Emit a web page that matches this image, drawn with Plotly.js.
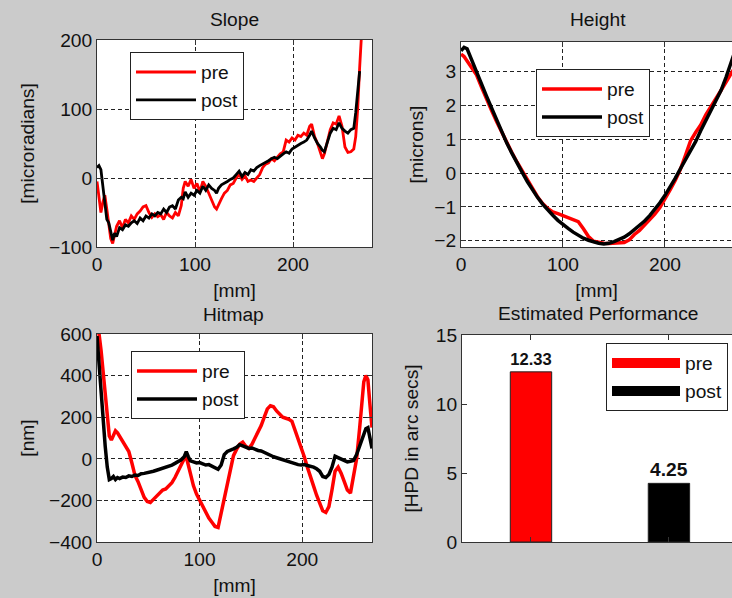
<!DOCTYPE html>
<html>
<head>
<meta charset="utf-8">
<script src="https://cdn.plot.ly/plotly-3.0.1.min.js"></script>
<style>html,body{margin:0;padding:0;background:#cbcbcb;}#chart{width:732px;height:598px;}</style>
</head>
<body>
<div id="chart"></div>
<script>
// ---------- Slope ----------
const slopeX = [0,2,4,6,8,10,12,14,16,18,20,23,26,29,32,35,38,41,44,47,50,53,56,59,62,65,68,71,74,77,80,83,86,88,90,93,96,99,102,105,108,111,114,117,120,122,124,127,130,133,136,139,142,145,148,151,154,157,160,163,166,169,172,175,178,181,184,187,190,193,196,199,202,205,208,211,214,217,219,222,225,228,230,232,235,238,241,244,247,250,253,256,259,262,264,266,268,270];
const slopePre = [-5,-30,-50,-35,-25,-45,-70,-88,-95,-82,-70,-62,-72,-60,-65,-55,-60,-52,-48,-42,-40,-50,-57,-52,-56,-53,-60,-50,-55,-58,-50,-55,-40,-15,-5,-12,-2,-15,-8,-20,-5,-12,-22,-30,-42,-45,-38,-30,-22,-18,-10,-8,0,5,-2,3,-5,-3,-5,0,5,15,20,22,28,25,30,35,38,55,52,58,55,62,60,65,62,75,78,60,50,35,28,35,55,70,80,78,90,75,45,37,38,42,60,100,160,210];
const slopePost = [15,18,12,-10,-40,-60,-65,-80,-90,-80,-85,-72,-75,-68,-70,-65,-62,-66,-58,-62,-55,-58,-52,-55,-50,-52,-45,-50,-42,-40,-45,-32,-28,-30,-20,-28,-22,-25,-18,-22,-12,-18,-10,-15,-18,-22,-15,-10,-8,-5,-2,0,5,10,2,8,5,12,10,15,18,20,22,25,28,30,28,32,35,38,36,42,45,48,50,52,55,62,68,58,50,45,40,38,50,65,72,70,80,72,68,65,70,72,95,130,155,null];

// ---------- Height ----------
const heightX = [0,3,6,10,15,20,25,30,35,40,45,50,55,60,65,70,75,80,85,90,95,100,105,110,115,120,125,130,135,140,145,150,155,160,165,170,175,180,185,190,195,200,205,210,215,220,225,230,235,240,245,250,255,260,265,268];
const heightPre = [3.52,3.45,3.32,3.15,2.92,2.55,2.18,1.85,1.52,1.20,0.90,0.60,0.32,0.05,-0.22,-0.45,-0.70,-0.90,-1.05,-1.15,-1.20,-1.26,-1.33,-1.38,-1.44,-1.65,-1.88,-2.02,-2.06,-2.08,-2.09,-2.08,-2.08,-2.06,-1.98,-1.82,-1.70,-1.55,-1.38,-1.22,-1.02,-0.78,-0.50,-0.22,0.10,0.52,0.95,1.20,1.42,1.72,1.98,2.20,2.45,2.70,2.95,3.10];
const heightPost = [3.62,3.72,3.68,3.40,3.00,2.65,2.28,1.92,1.58,1.22,0.88,0.58,0.28,0.02,-0.25,-0.50,-0.72,-0.92,-1.10,-1.25,-1.40,-1.53,-1.64,-1.75,-1.85,-1.93,-1.99,-2.04,-2.08,-2.10,-2.08,-2.03,-1.97,-1.90,-1.80,-1.68,-1.56,-1.42,-1.26,-1.08,-0.88,-0.66,-0.42,-0.16,0.12,0.38,0.65,0.93,1.25,1.55,1.85,2.12,2.45,2.85,3.30,3.55];

// ---------- Hitmap ----------
const hitX = [0,2,4,6,8,10,12,14,16,18,20,22,25,28,31,34,37,40,43,46,49,52,55,58,61,64,67,70,73,76,79,82,85,87,89,91,94,97,100,103,106,109,112,115,118,121,124,127,130,133,136,139,142,145,148,151,154,157,160,163,166,169,172,175,178,181,184,187,190,193,196,199,202,205,208,211,214,217,220,223,226,229,232,235,238,241,244,247,250,253,256,258,260,262,264,266,268];
const hitPre = [620,600,520,420,320,220,110,90,110,135,125,110,80,60,35,-20,-80,-110,-150,-185,-205,-210,-195,-180,-165,-150,-145,-130,-115,-90,-60,-30,0,10,-30,-80,-130,-170,-200,-230,-260,-285,-305,-325,-330,-260,-180,-110,-40,15,45,70,80,60,50,70,100,130,160,200,240,255,250,230,215,200,195,190,180,140,90,50,10,-40,-80,-130,-175,-215,-250,-258,-230,-150,-60,-40,-70,-110,-150,-165,-80,0,150,270,370,400,380,260,150];
const hitPost = [590,450,290,170,60,-40,-100,-95,-85,-100,-90,-95,-88,-90,-82,-85,-78,-80,-72,-70,-68,-62,-60,-55,-50,-45,-40,-38,-30,-22,-15,-5,10,35,10,-10,-15,-20,-18,-25,-30,-28,-35,-42,-50,-30,20,35,40,48,55,68,62,55,50,52,45,40,38,30,25,18,10,5,0,-5,-10,-15,-20,-25,-28,-30,-28,-32,-35,-40,-48,-60,-85,-90,-75,-40,12,5,-5,-8,-15,-12,-8,20,60,90,120,145,150,90,50];

// ---------- Estimated Performance ----------
const perfNames = ['pre', 'post'];
const perfPos = [1, 2];
const perfValues = [12.33, 4.25];

const RED = '#ff0000', BLACK = '#000000';
const FF = 'Liberation Sans, Arial, sans-serif';
const FS = 19.2;
const font = {family: FF, size: FS, color: '#111'};

function ax(extra) {
  return Object.assign({
    showline: true, linecolor: '#333', linewidth: 1, mirror: 'ticks',
    ticks: 'inside', ticklen: 5, tickcolor: '#333', tickwidth: 1,
    showgrid: true, gridcolor: '#222', gridwidth: 1, griddash: '4px,3px',
    zeroline: false, tickfont: font, automargin: false, fixedrange: true
  }, extra);
}

const traces = [
  {x: slopeX, y: slopePre, type: 'scatter', mode: 'lines', name: 'pre', line: {color: RED, width: 2.8}, xaxis: 'x', yaxis: 'y', legend: 'legend'},
  {x: slopeX, y: slopePost, type: 'scatter', mode: 'lines', name: 'post', line: {color: BLACK, width: 2.8}, xaxis: 'x', yaxis: 'y', legend: 'legend'},
  {x: heightX, y: heightPre, type: 'scatter', mode: 'lines', name: 'pre', line: {color: RED, width: 3.5}, xaxis: 'x2', yaxis: 'y2', legend: 'legend2'},
  {x: heightX, y: heightPost, type: 'scatter', mode: 'lines', name: 'post', line: {color: BLACK, width: 3.5}, xaxis: 'x2', yaxis: 'y2', legend: 'legend2'},
  {x: hitX, y: hitPre, type: 'scatter', mode: 'lines', name: 'pre', line: {color: RED, width: 3.5}, xaxis: 'x3', yaxis: 'y3', legend: 'legend3'},
  {x: hitX, y: hitPost, type: 'scatter', mode: 'lines', name: 'post', line: {color: BLACK, width: 3.5}, xaxis: 'x3', yaxis: 'y3', legend: 'legend3'},
];
const barColors = [RED, BLACK];
perfNames.forEach((n, i) => {
  traces.push({
    x: [perfPos[i]], y: [perfValues[i]], type: 'bar', name: n, width: 0.3,
    marker: {color: barColors[i], line: {color: '#222', width: 1}},
    texttemplate: '%{y:.2f}', textposition: 'outside', cliponaxis: false,
    textfont: {family: FF, size: FS, color: '#111', weight: 'bold'},
    xaxis: 'x4', yaxis: 'y4', showlegend: false
  });
  traces.push({
    x: [null], y: [null], type: 'scatter', mode: 'lines', name: n,
    line: {color: barColors[i], width: 18}, xaxis: 'x4', yaxis: 'y4', legend: 'legend4'
  });
});

function leg(x, y, w) {
  return {x: x, y: y, xanchor: 'left', yanchor: 'top', bgcolor: '#ffffff', bordercolor: '#222', borderwidth: 1,
    font: font, itemwidth: w || 60, tracegroupgap: 0, itemclick: false, itemdoubleclick: false};
}

const H = 598, W = 732;
const px = v => v / W, py = v => (H - v) / H;

const layout = {
  width: W, height: H,
  margin: {l: 0, r: 0, t: 0, b: 0},
  paper_bgcolor: '#cbcbcb', plot_bgcolor: '#ffffff',
  font: font, showlegend: true, barmode: 'overlay',
  xaxis: ax({domain: [px(97), px(372)], range: [0, 280.6], tickvals: [0, 100, 200], anchor: 'y',
    title: {text: '[mm]', font: font, standoff: 9}}),
  yaxis: ax({domain: [py(247), py(40)], range: [-100, 200], tickvals: [-100, 0, 100, 200], anchor: 'x',
    title: {text: '[microradians]', font: font, standoff: 9}}),
  xaxis2: ax({domain: [px(461), 1], range: [0, 265.7], tickvals: [0, 100, 200], anchor: 'y2',
    title: {text: '[mm]', font: font, standoff: 9}}),
  yaxis2: ax({domain: [py(247), py(42)], range: [-2.19, 3.88], tickvals: [-2, -1, 0, 1, 2, 3], anchor: 'x2', mirror: false,
    title: {text: '[microns]', font: font, standoff: 5}}),
  xaxis3: ax({domain: [px(97), px(372)], range: [0, 268], tickvals: [0, 100, 200], anchor: 'y3',
    title: {text: '[mm]', font: font, standoff: 9}}),
  yaxis3: ax({domain: [py(542), py(334)], range: [-400, 600], tickvals: [-400, -200, 0, 200, 400, 600], anchor: 'x3',
    title: {text: '[nm]', font: font, standoff: 9}}),
  xaxis4: ax({domain: [px(462), 1], range: [0.5, 2.457], tickvals: perfPos, showticklabels: false, showgrid: false, anchor: 'y4'}),
  yaxis4: ax({domain: [py(542), py(335)], range: [0, 15], tickvals: [0, 5, 10, 15], showgrid: false, anchor: 'x4', mirror: false,
    title: {text: '[HPD in arc secs]', font: font, standoff: 12}}),
  legend: leg(px(130), py(52)),
  legend2: leg(px(536), py(69)),
  legend3: leg(px(131), py(351)),
  legend4: leg(px(606), py(343), 68),
  annotations: [
    {text: 'Slope', x: px(234), y: py(20), xref: 'paper', yref: 'paper', showarrow: false, font: font, xanchor: 'center', yanchor: 'middle'},
    {text: 'Height', x: px(598), y: py(20), xref: 'paper', yref: 'paper', showarrow: false, font: font, xanchor: 'center', yanchor: 'middle'},
    {text: 'Hitmap', x: px(233), y: py(314), xref: 'paper', yref: 'paper', showarrow: false, font: font, xanchor: 'center', yanchor: 'middle'},
    {text: 'Estimated Performance', x: px(598), y: py(313), xref: 'paper', yref: 'paper', showarrow: false, font: font, xanchor: 'center', yanchor: 'middle'}
  ]
};

Plotly.newPlot('chart', traces, layout, {staticPlot: true, displayModeBar: false});
</script>
</body>
</html>
